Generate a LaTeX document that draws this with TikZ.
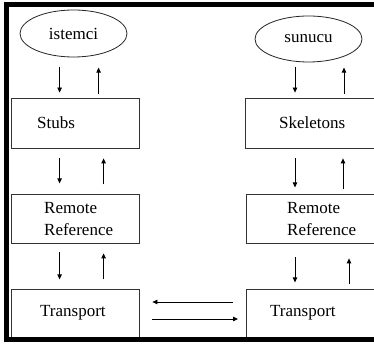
\documentclass[tikz,border=0pt]{standalone}
\usepackage{fontspec}
\setmainfont{Liberation Serif}
\usetikzlibrary{arrows.meta,shapes.geometric}
\begin{document}
\begin{tikzpicture}[x=1pt,y=1pt,
  every node/.style={font=\fontsize{17}{22}\selectfont},
  layerbox/.style={draw=black!80,line width=0.8pt,rectangle,inner sep=0pt},
  endpoint/.style={draw=black!85,line width=0.8pt,ellipse,inner sep=0pt,minimum width=107pt},
  caption/.style={anchor=west,align=left,inner sep=0pt},
  arr/.style={line width=0.8pt,-{Triangle[length=5pt,width=4.5pt]}}]
\useasboundingbox (0,0) rectangle (374,345);
\clip (0,0) rectangle (374,345);
\fill[white] (0,0) rectangle (374,345);

% client side
\node[endpoint,minimum height=47pt] (istemci) at (73.5,311.5) {istemci};
\node[layerbox,minimum width=128pt,minimum height=50pt] (stubs) at (75,222) {};
\node[layerbox,minimum width=128pt,minimum height=49pt] (rrL) at (75,126.5) {};
\node[layerbox,minimum width=128pt,minimum height=49pt] (trL) at (75,31.5) {};
\node[caption] (stubsT) at (37,222) {Stubs};
\node[caption] (rrLT) at (44,126) {Remote\\Reference};
\node[caption] (trLT) at (40,32) {Transport};

% server side
\node[endpoint,minimum height=46pt] (sunucu) at (308.5,306) {sunucu};
\node[layerbox,minimum width=160pt,minimum height=50pt,anchor=west] (skel) at (245,222) {};
\node[layerbox,minimum width=160pt,minimum height=49pt,anchor=west] (rrR) at (246,126.5) {};
\node[layerbox,minimum width=160pt,minimum height=49pt,anchor=west] (trR) at (246,31.5) {};
\node[caption] (skelT) at (279,222) {Skeletons};
\node[caption] (rrRT) at (287,126) {Remote\\Reference};
\node[caption] (trRT) at (270,32) {Transport};

% client stack arrows
\draw[arr] ([shift={(49,31)}]stubs.north west) -- ([shift={(49,5)}]stubs.north west);
\draw[arr] ([shift={(88,4)}]stubs.north west) -- ([shift={(88,30)}]stubs.north west);
\draw[arr] ([shift={(49,-10)}]stubs.south west) -- ([shift={(49,-35)}]stubs.south west);
\draw[arr] ([shift={(93,-36)}]stubs.south west) -- ([shift={(93,-10)}]stubs.south west);
\draw[arr] ([shift={(49,-9)}]rrL.south west) -- ([shift={(49,-36)}]rrL.south west);
\draw[arr] ([shift={(93,-36)}]rrL.south west) -- ([shift={(93,-10)}]rrL.south west);

% server stack arrows
\draw[arr] ([shift={(50,31)}]skel.north west) -- ([shift={(50,5)}]skel.north west);
\draw[arr] ([shift={(99,4)}]skel.north west) -- ([shift={(99,30)}]skel.north west);
\draw[arr] ([shift={(50,-10)}]skel.south west) -- ([shift={(50,-39)}]skel.south west);
\draw[arr] ([shift={(98,-41)}]skel.south west) -- ([shift={(98,-10)}]skel.south west);
\draw[arr] ([shift={(49,-14)}]rrR.south west) -- ([shift={(49,-39)}]rrR.south west);
\draw[arr] ([shift={(103,-41)}]rrR.south west) -- ([shift={(103,-15)}]rrR.south west);

% transport link
\draw[arr] ([shift={(-13,11.5)}]trR.west) -- ([shift={(13,11.5)}]trL.east);
\draw[arr] ([shift={(13,-5.5)}]trL.east) -- ([shift={(-8,-5.5)}]trR.west);

% heavy frame
\draw[line width=5pt,line join=miter] (380,340.75) -- (6.75,340.75) -- (6.75,6) -- (380,6);
\end{tikzpicture}
\end{document}
